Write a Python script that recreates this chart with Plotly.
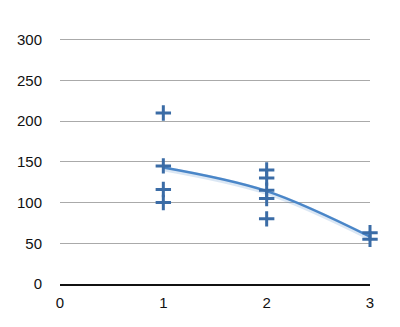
import plotly.graph_objects as go

x_vals = [1, 1, 1, 1, 2, 2, 2, 2, 2, 3, 3]
y_vals = [210, 145, 116, 100, 140, 130, 115, 105, 80, 63, 55]

trend_x = [1, 2, 3]
trend_y = [143, 114, 58]

x_ticks = [0, 1, 2, 3]
y_ticks = [0, 50, 100, 150, 200, 250, 300]

fig = go.Figure()
fig.add_trace(go.Scatter(
    x=trend_x, y=[v - 1.5 for v in trend_y], mode="lines",
    line=dict(color="rgba(74,134,200,0.2)", width=5, shape="spline"),
    hoverinfo="skip", showlegend=False))
fig.add_trace(go.Scatter(
    x=trend_x, y=trend_y, mode="lines", line=dict(color="#4a86c8", width=2.5, shape="spline"),
    showlegend=False))
fig.add_trace(go.Scatter(
    x=x_vals, y=y_vals, mode="markers",
    marker=dict(symbol="cross-thin", size=11, line=dict(color="#3b6ca6", width=3)),
    showlegend=False, cliponaxis=False))

fig.update_layout(
    width=400, height=327,
    margin=dict(l=60, r=30, t=38, b=43),
    paper_bgcolor="white", plot_bgcolor="white",
    font=dict(family="Liberation Sans, Arial, sans-serif", size=15, color="#111"),
    xaxis=dict(range=[0, 3], tickvals=x_ticks, showgrid=False, zeroline=False,
               showline=True, linecolor="#111", linewidth=1.5, ticks="", ticklabelstandoff=4),
    yaxis=dict(range=[0, 302], tickvals=y_ticks, showgrid=True, gridcolor="#aaaaaa", gridwidth=1,
               zeroline=False, showline=False, ticks="", ticklabelstandoff=17),
)
fig.write_html("out.html")
